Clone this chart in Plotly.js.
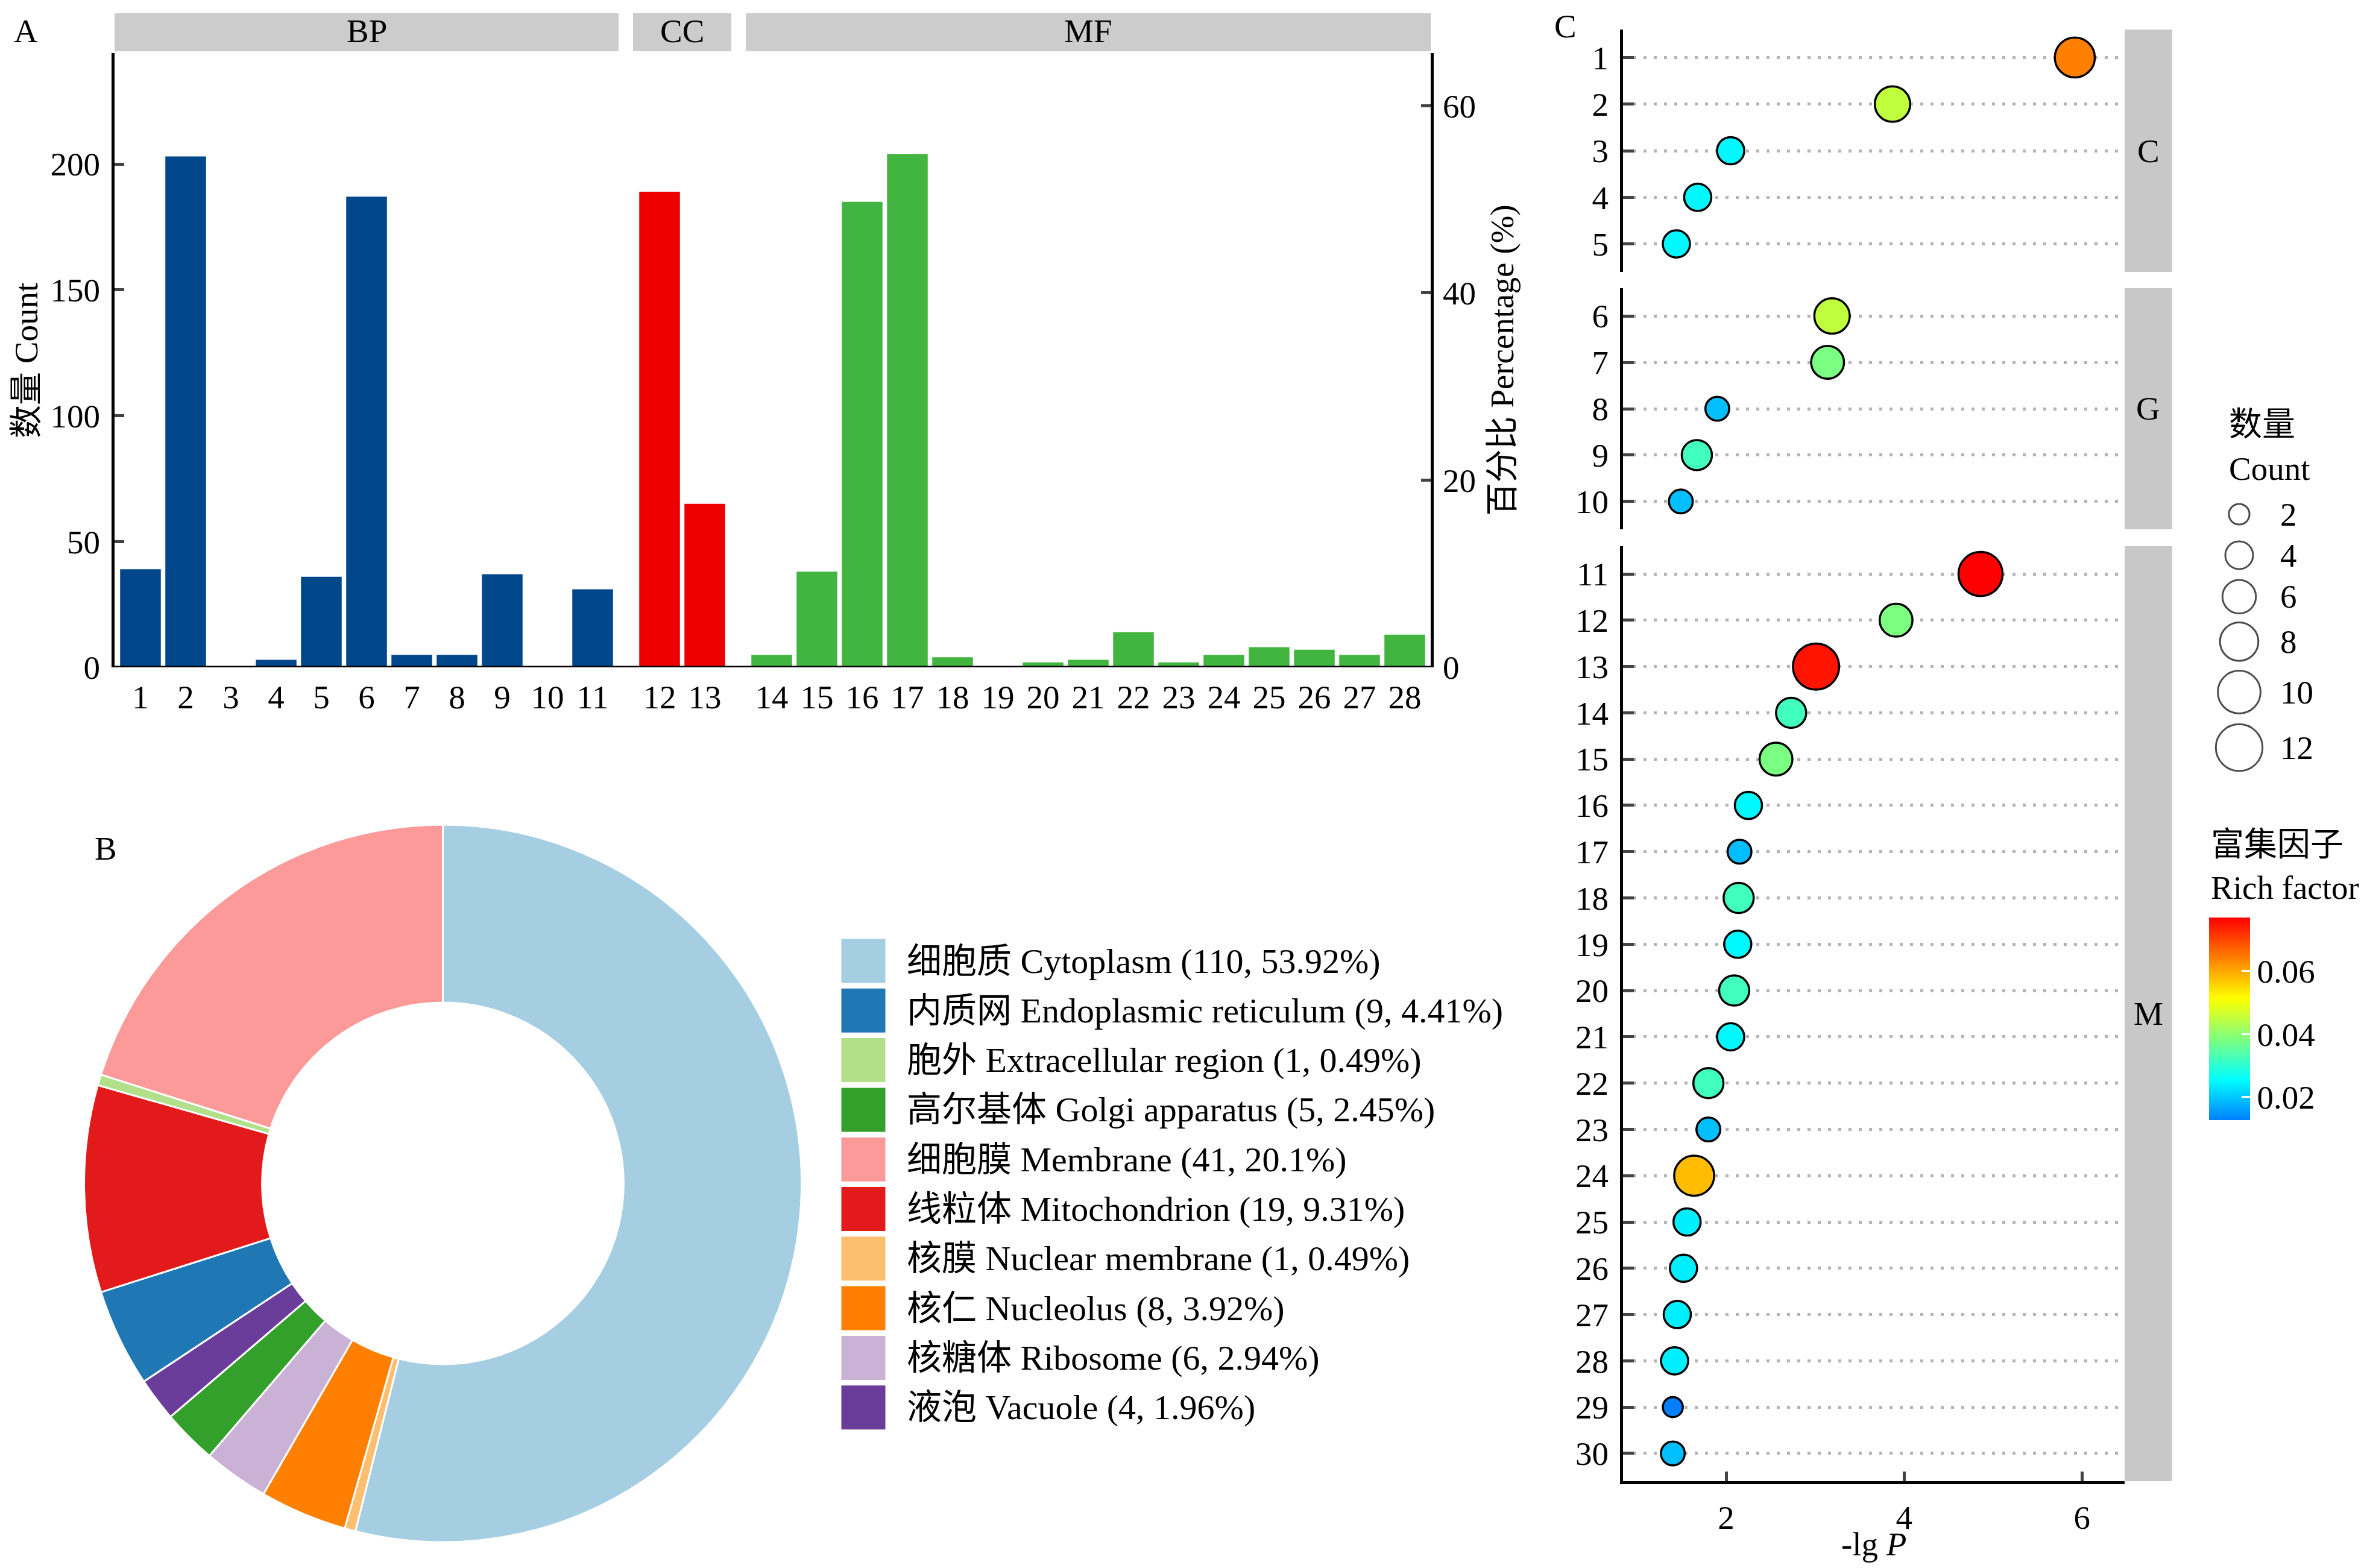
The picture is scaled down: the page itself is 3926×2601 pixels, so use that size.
<!DOCTYPE html>
<html>
<head>
<meta charset="utf-8">
<script src="https://cdn.plot.ly/plotly-3.0.1.min.js"></script>
<style>
  html, body { margin: 0; padding: 0; background: #fff; }
  #chart { width: 3926px; height: 2601px; }
</style>
</head>
<body>
<div id="chart"></div>
<script>
// ---- A: GO annotation counts ----
const goTerms = ['1','2','3','4','5','6','7','8','9','10','11','12','13','14',
  '15','16','17','18','19','20','21','22','23','24','25','26','27','28'];
const goCounts = [39, 203, 0, 3, 36, 187, 5, 5, 37, 0, 31,
  189, 65,
  5, 38, 185, 204, 4, 0, 2, 3, 14, 2, 5, 8, 7, 5, 13];
const goGroups = ['BP', 'CC', 'MF'];
const goGroupSizes = [11, 2, 15];
const goColors = ['#00468B', '#ED0000', '#42B540'];
const percentBase = 372;   // count that equals 100 % on the right axis
const countTicks = [0, 50, 100, 150, 200];
const percentTicks = [0, 20, 40, 60];

// ---- B: subcellular location ----
const locZh = ['细胞质', '内质网', '胞外', '高尔基体', '细胞膜', '线粒体', '核膜', '核仁', '核糖体', '液泡'];
const locEn = ['Cytoplasm', 'Endoplasmic reticulum', 'Extracellular region', 'Golgi apparatus',
  'Membrane', 'Mitochondrion', 'Nuclear membrane', 'Nucleolus', 'Ribosome', 'Vacuole'];
const locCounts = [110, 9, 1, 5, 41, 19, 1, 8, 6, 4];
const locColors = ['#A6CEE3', '#1F78B4', '#B2DF8A', '#33A02C', '#FB9A99',
  '#E31A1C', '#FDBF6F', '#FF7F00', '#CAB2D6', '#6A3D9A'];
// order of the slices, clockwise from 12 o'clock
const pieOrder = ['Cytoplasm', 'Nuclear membrane', 'Nucleolus', 'Ribosome', 'Golgi apparatus',
  'Vacuole', 'Endoplasmic reticulum', 'Mitochondrion', 'Extracellular region', 'Membrane'];

// ---- C: enrichment ----
const enrichTerms = ['1','2','3','4','5','6','7','8','9','10','11','12','13','14','15',
  '16','17','18','19','20','21','22','23','24','25','26','27','28','29','30'];
const enrichFacets = ['C', 'G', 'M'];
const enrichFacetSizes = [5, 5, 20];
const enrichNegLogP = [5.92, 3.87, 2.05, 1.68, 1.44,
  3.19, 3.14, 1.90, 1.67, 1.49,
  4.86, 3.91, 3.01, 2.73, 2.56, 2.25, 2.15, 2.14, 2.13, 2.09,
  2.05, 1.80, 1.80, 1.64, 1.56, 1.52, 1.45, 1.42, 1.40, 1.40];
const enrichCount = [9, 7, 4, 4, 4,
  7, 6, 3, 5, 3,
  11, 6, 12, 5, 6, 4, 3, 5, 4, 5,
  4, 5, 3, 9, 4, 4, 4, 4, 2, 3];
const enrichRich = [0.064, 0.045, 0.025, 0.025, 0.025,
  0.045, 0.038, 0.019, 0.032, 0.019,
  0.077, 0.038, 0.075, 0.032, 0.038, 0.025, 0.019, 0.032, 0.025, 0.032,
  0.025, 0.032, 0.019, 0.058, 0.024, 0.024, 0.024, 0.024, 0.0127, 0.019];
const sizeBreaks = [2, 4, 6, 8, 10, 12];
const richTicks = [0.02, 0.04, 0.06];
const pTicks = [2, 4, 6];

const W = 3926, H = 2601;
const px = v => v / W;
const py = v => 1 - v / H;
const FONT = 'Liberation Serif, Noto Sans CJK SC, serif';
const FS = 55;

// count -> marker diameter (area grows linearly with count)
const dotSize = c => Math.sqrt(505.6 * c + 333) - 3.5;
const richScale = [[0, '#007FFF'], [0.2, '#00FFFF'], [0.4, '#7FFF7F'],
  [0.6, '#FFFF00'], [0.8, '#FF7F00'], [1, '#FF0000']];
const richMin = Math.min(...enrichRich), richMax = Math.max(...enrichRich);

const traces = [];
const shapes = [];
const annotations = [];
const note = (text, x, y, opt) => annotations.push(Object.assign({
  text, x: px(x), y: py(y), xref: 'paper', yref: 'paper', showarrow: false,
  font: { size: FS }, xanchor: 'center', yanchor: 'middle'
}, opt || {}));

// ---- A ----
const aXDomains = [[190, 1026], [1050, 1213], [1237, 2373]];
let start = 0;
goGroups.forEach((g, i) => {
  const n = goGroupSizes[i];
  traces.push({
    type: 'bar', x: goTerms.slice(start, start + n), y: goCounts.slice(start, start + n),
    xaxis: i === 0 ? 'x' : 'x' + (i + 1), yaxis: 'y',
    marker: { color: goColors[i], line: { width: 0 } }, hoverinfo: 'skip', showlegend: false
  });
  start += n;
  shapes.push({ type: 'rect', xref: 'paper', yref: 'paper', x0: px(aXDomains[i][0]), x1: px(aXDomains[i][1]),
    y0: py(85), y1: py(22), fillcolor: '#CCCCCC', line: { width: 0 }, layer: 'below' });
  note(g, (aXDomains[i][0] + aXDomains[i][1]) / 2, 52);
});
// the same MF counts on the percentage scale, invisible: it only carries the right axis
traces.push({
  type: 'scatter', mode: 'markers', xaxis: 'x3', yaxis: 'y2',
  x: goTerms.slice(13), y: goCounts.slice(13).map(c => c * 100 / percentBase),
  marker: { size: 1, opacity: 0 }, hoverinfo: 'skip', showlegend: false
});
shapes.push({ type: 'line', xref: 'paper', yref: 'y', x0: px(190), x1: px(2373), y0: 0, y1: 0,
  line: { color: '#000', width: 5 } });
const countMax = 244.1;
note('数量 Count', 43, 598, { textangle: -90 });

const catX = (dom, n) => ({
  domain: [px(dom[0]), px(dom[1])], anchor: 'y', type: 'category',
  range: [-0.5 - (dom[1] - dom[0] - 75 * n) / 150, n - 0.5 + (dom[1] - dom[0] - 75 * n) / 150],
  showline: false, ticks: '', showgrid: false, zeroline: false, ticklabelstandoff: 12,
  tickfont: { size: FS }, fixedrange: true
});

// ---- B ----
const pieIdx = pieOrder.map(name => locEn.indexOf(name));
traces.push({
  type: 'pie', values: pieIdx.map(i => locCounts[i]), labels: pieIdx.map(i => locEn[i]),
  marker: { colors: pieIdx.map(i => locColors[i]), line: { color: '#fff', width: 3 } },
  hole: 0.504, sort: false, direction: 'clockwise', rotation: 0,
  textinfo: 'none', hoverinfo: 'none', showlegend: false,
  domain: { x: [px(139), px(1330)], y: [py(2558), py(1368)] }
});
const locTotal = locCounts.reduce((a, b) => a + b, 0);
const swatchY = locEn.map((_, i) => 1594 + 82.3 * i);
traces.push({
  type: 'scatter', mode: 'markers', xaxis: 'x5', yaxis: 'y6',
  x: locEn.map(() => 1432), y: swatchY,
  marker: { symbol: 'square', size: 73, color: locColors, line: { width: 0 } },
  hoverinfo: 'skip', showlegend: false
});
locEn.forEach((en, i) => {
  const pct = parseFloat((locCounts[i] / locTotal * 100).toFixed(2));
  note(`${locZh[i]} ${en} (${locCounts[i]}, ${pct}%)`, 1502, swatchY[i], { xanchor: 'left', font: { size: 58 } });
});

// ---- C ----
const cYDomains = [[49, 451], [478, 878], [906, 2457]];
const cbTop = 1522, cbLen = 336;
start = 0;
enrichFacets.forEach((f, i) => {
  const n = enrichFacetSizes[i];
  const sl = a => a.slice(start, start + n);
  traces.push({
    type: 'scatter', mode: 'markers', xaxis: 'x4', yaxis: 'y' + (3 + i),
    x: sl(enrichNegLogP), y: sl(enrichTerms),
    marker: {
      size: sl(enrichCount).map(dotSize), color: sl(enrichRich),
      colorscale: richScale, cmin: richMin, cmax: richMax,
      line: { color: '#000', width: 3.5 }, opacity: 1,
      showscale: i === 2,
      colorbar: {
        x: px(3664), xanchor: 'left', y: py(cbTop + cbLen / 2), yanchor: 'middle',
        len: cbLen, lenmode: 'pixels', thickness: 68, thicknessmode: 'pixels',
        outlinewidth: 0, xpad: 0, ypad: 0,
        tickvals: richTicks, ticktext: richTicks.map(v => v.toFixed(2)),
        ticks: 'inside', ticklen: 14, tickwidth: 3, tickcolor: '#fff',
        tickfont: { size: FS }
      }
    },
    hoverinfo: 'skip', showlegend: false
  });
  start += n;
  shapes.push({ type: 'rect', xref: 'paper', yref: 'paper', x0: px(3524), x1: px(3603),
    y0: py(cYDomains[i][1]), y1: py(cYDomains[i][0]), fillcolor: '#C8C8C8', line: { width: 0 }, layer: 'below' });
  note(f, 3563, (cYDomains[i][0] + cYDomains[i][1]) / 2);
});
// white tick marks on the left edge of the colour bar too (ggplot draws both sides)
richTicks.forEach(v => {
  const yy = cbTop + cbLen * (1 - (v - richMin) / (richMax - richMin));
  shapes.push({ type: 'line', xref: 'paper', yref: 'paper', x0: px(3664), x1: px(3678),
    y0: py(yy), y1: py(yy), line: { color: '#fff', width: 3 } });
});
note('-lg <i>P</i>', 3108, 2561);

const catY = (dom, terms) => ({
  domain: [py(dom[1]), py(dom[0])], anchor: 'x4', type: 'category',
  categoryorder: 'array', categoryarray: terms, range: [terms.length - 0.4, -0.6],
  showline: true, linewidth: 5, linecolor: '#000', ticks: 'inside', ticklen: 18, tickwidth: 5,
  showgrid: true, gridcolor: '#B4B4B4', gridwidth: 5, griddash: '5px,12px', zeroline: false,
  ticklabelstandoff: 8, tickfont: { size: FS }, fixedrange: true
});

// size legend: circles with the same count -> size mapping as the dots
const keyH = sizeBreaks.map(c => Math.max(68, 1.2 * (dotSize(c) + 3.5)));
const keyY = [853];
for (let i = 1; i < sizeBreaks.length; i++) keyY.push(keyY[i - 1] + (keyH[i - 1] + keyH[i]) / 2);
traces.push({
  type: 'scatter', mode: 'markers', xaxis: 'x5', yaxis: 'y6',
  x: sizeBreaks.map(() => 3714), y: keyY,
  marker: { size: sizeBreaks.map(c => dotSize(c) + 1), color: 'rgba(0,0,0,0)', line: { color: '#000', width: 3 } },
  hoverinfo: 'skip', showlegend: false
});
sizeBreaks.forEach((c, i) => note(String(c), 3780, keyY[i], { xanchor: 'left' }));
note('数量', 3695, 704, { xanchor: 'left' });
note('Count', 3695, 777, { xanchor: 'left' });
note('富集因子', 3665, 1400, { xanchor: 'left' });
note('Rich factor', 3665, 1472, { xanchor: 'left' });

// panel letters
note('A', 43, 52);
note('B', 175, 1407);
note('C', 2596, 43);

const layout = {
  width: W, height: H, autosize: false,
  margin: { l: 0, r: 0, t: 0, b: 0, pad: 0 },
  paper_bgcolor: '#fff', plot_bgcolor: 'rgba(0,0,0,0)',
  font: { family: FONT, size: FS, color: '#000' },
  bargap: 0.1, showlegend: false,
  xaxis: catX(aXDomains[0], 11),
  xaxis2: catX(aXDomains[1], 2),
  xaxis3: catX(aXDomains[2], 15),
  yaxis: {
    domain: [py(1107), py(88)], anchor: 'x', range: [0, countMax], tickvals: countTicks,
    showline: true, linewidth: 5, linecolor: '#000', ticks: 'inside', ticklen: 16, tickwidth: 5,
    showgrid: false, zeroline: false, ticklabelstandoff: 8, tickfont: { size: FS }, fixedrange: true
  },
  yaxis2: {
    overlaying: 'y', side: 'right', anchor: 'x3', range: [0, countMax * 100 / percentBase],
    tickvals: percentTicks,
    showline: true, linewidth: 5, linecolor: '#000', ticks: 'inside', ticklen: 16, tickwidth: 5,
    showgrid: false, zeroline: false, ticklabelstandoff: 4, tickfont: { size: FS },
    title: { text: '百分比 Percentage (%)', font: { size: FS }, standoff: 26 }, fixedrange: true
  },
  xaxis4: {
    domain: [px(2692), px(3524)], anchor: 'y5', range: [0.84, 6.48], tickvals: pTicks,
    showline: true, linewidth: 5, linecolor: '#000', ticks: 'inside', ticklen: 16, tickwidth: 5,
    showgrid: false, zeroline: false, ticklabelstandoff: 8, tickfont: { size: FS }, fixedrange: true
  },
  yaxis3: catY(cYDomains[0], enrichTerms.slice(0, 5)),
  yaxis4: catY(cYDomains[1], enrichTerms.slice(5, 10)),
  yaxis5: catY(cYDomains[2], enrichTerms.slice(10)),
  // pixel-space helper axes for the hand-made legends
  xaxis5: { domain: [0, 1], anchor: 'y6', range: [0, W], visible: false, fixedrange: true },
  yaxis6: { domain: [0, 1], anchor: 'x5', range: [H, 0], visible: false, fixedrange: true },
  shapes, annotations
};

Plotly.newPlot('chart', traces, layout, { staticPlot: true, displayModeBar: false });
</script>
</body>
</html>
